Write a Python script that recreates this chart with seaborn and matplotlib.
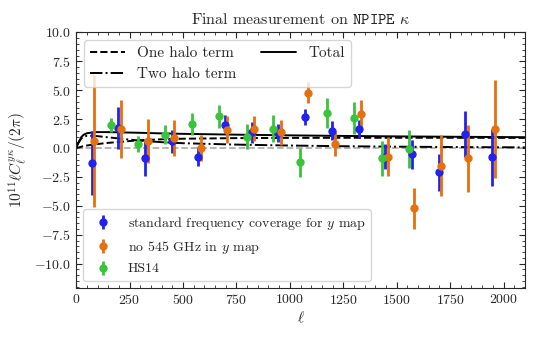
import matplotlib
matplotlib.use('Agg')
import matplotlib.pyplot as plt
from matplotlib.ticker import MultipleLocator
import seaborn as sns

# model curves
ell_model = [0, 5, 10, 25, 35, 50, 85, 150, 200, 300, 400, 500, 750, 1000, 1250, 1500, 1750, 2100]
one_halo = [0, 0.02, 0.04, 0.12, 0.17, 0.22, 0.32, 0.45, 0.53, 0.68, 0.76, 0.81, 0.86, 0.88, 0.89, 0.89, 0.89, 0.88]
two_halo = [0, 0.23, 0.42, 0.85, 0.98, 1.06, 1.06, 0.93, 0.83, 0.64, 0.51, 0.42, 0.30, 0.22, 0.16, 0.12, 0.09, 0.06]
total = [0, 0.25, 0.46, 0.97, 1.15, 1.28, 1.38, 1.38, 1.36, 1.32, 1.27, 1.23, 1.16, 1.10, 1.05, 1.01, 0.98, 0.94]

# standard frequency coverage
ell_std = [73, 198, 323, 447, 572, 697, 822, 946, 1073, 1197, 1322, 1445, 1571, 1696, 1821, 1946]
cl_std = [-1.3, 1.74, -0.9, 0.57, -0.73, 2.03, 1.36, 1.3, 2.66, 1.5, 1.65, -0.73, -0.52, -2.09, 1.24, -0.81]
err_std = [2.75, 1.8, 1.5, 1.0, 0.85, 0.8, 0.9, 0.8, 0.7, 0.8, 0.8, 1.05, 1.25, 1.6, 2.0, 2.5]

# no 545 GHz
ell_no545 = [84, 209, 334, 458, 583, 708, 834, 959, 1084, 1210, 1334, 1459, 1582, 1707, 1833, 1958]
cl_no545 = [0.63, 1.65, 0.63, 0.87, 0.0, 1.6, 1.68, 1.36, 4.78, 0.35, 2.96, -0.73, -5.22, -1.51, -0.87, 1.65]
err_no545 = [5.7, 2.55, 1.9, 1.55, 1.16, 1.2, 1.1, 1.1, 0.9, 1.05, 1.2, 1.7, 1.8, 2.6, 2.9, 4.2]

# HS14
ell_hs14 = [162, 291, 416, 544, 669, 798, 923, 1048, 1176, 1302, 1430, 1556]
cl_hs14 = [2.03, 0.35, 1.16, 2.09, 2.75, 1.0, 1.68, -1.22, 3.04, 2.6, -0.9, -0.06]
err_hs14 = [0.6, 0.72, 0.85, 0.95, 1.0, 1.1, 1.17, 1.25, 1.3, 1.4, 1.55, 1.65]

sns.set_style('ticks')
plt.rcParams['font.family'] = 'serif'
plt.rcParams['font.serif'] = ['cmr10']
plt.rcParams['mathtext.fontset'] = 'cm'
plt.rcParams['axes.formatter.use_mathtext'] = True
plt.rcParams['axes.unicode_minus'] = True
plt.rcParams['xtick.direction'] = 'in'
plt.rcParams['ytick.direction'] = 'in'
plt.rcParams['xtick.top'] = True
plt.rcParams['ytick.right'] = True

fig, ax = plt.subplots(figsize=(5.4, 3.38), dpi=100)
fig.subplots_adjust(left=0.141, right=0.972, top=0.904, bottom=0.148)

ax.axhline(0, color='#b0b0b0', ls='--', lw=1.3, zorder=1)
sns.lineplot(x=ell_model, y=one_halo, ax=ax, color='k', linestyle='--', lw=1.4, label='One halo term')
sns.lineplot(x=ell_model, y=two_halo, ax=ax, color='k', linestyle='-.', lw=1.4, label='Two halo term')
sns.lineplot(x=ell_model, y=total, ax=ax, color='k', linestyle='-', lw=1.4, label='Total')

e1 = ax.errorbar(ell_std, cl_std, yerr=err_std, fmt='o', color='#2222ee', ms=5, elinewidth=2, capsize=0,
                 label='standard frequency coverage for $y$ map')
e2 = ax.errorbar(ell_no545, cl_no545, yerr=err_no545, fmt='o', color='#e5700f', ms=5, elinewidth=2, capsize=0,
                 label='no 545 GHz in $y$ map')
e3 = ax.errorbar(ell_hs14, cl_hs14, yerr=err_hs14, fmt='o', color='#3cc33c', ms=5, elinewidth=2, capsize=0,
                 label='HS14')

ax.set_xlim(0, 2100)
ax.set_ylim(-12.1, 10)
ax.xaxis.set_major_locator(MultipleLocator(250))
ax.xaxis.set_minor_locator(MultipleLocator(50))
ax.yaxis.set_major_locator(MultipleLocator(2.5))
ax.yaxis.set_minor_locator(MultipleLocator(0.5))
ax.tick_params(which='both', top=True, right=True, direction='in', labelsize=10)
ax.tick_params(which='minor', length=2)
ax.tick_params(which='major', length=4)

ax.set_xlabel(r'$\ell$', fontsize=11, labelpad=2)
ax.set_ylabel(r'$10^{11}\ell C_\ell^{y\kappa}/(2\pi)$', fontsize=11)
ax.set_title(r'Final measurement on $\mathtt{NPIPE}$ $\kappa$', fontsize=11.5)

handles, labels = ax.get_legend_handles_labels()
leg1 = ax.legend(handles[:3], labels[:3], loc='upper left', ncol=2, fontsize=11, handlelength=2.3,
                 columnspacing=1.6)
ax.add_artist(leg1)
ax.legend([e1, e2, e3], [e1.get_label(), e2.get_label(), e3.get_label()], loc='lower left', fontsize=10)

plt.savefig('out.png', dpi=100)
